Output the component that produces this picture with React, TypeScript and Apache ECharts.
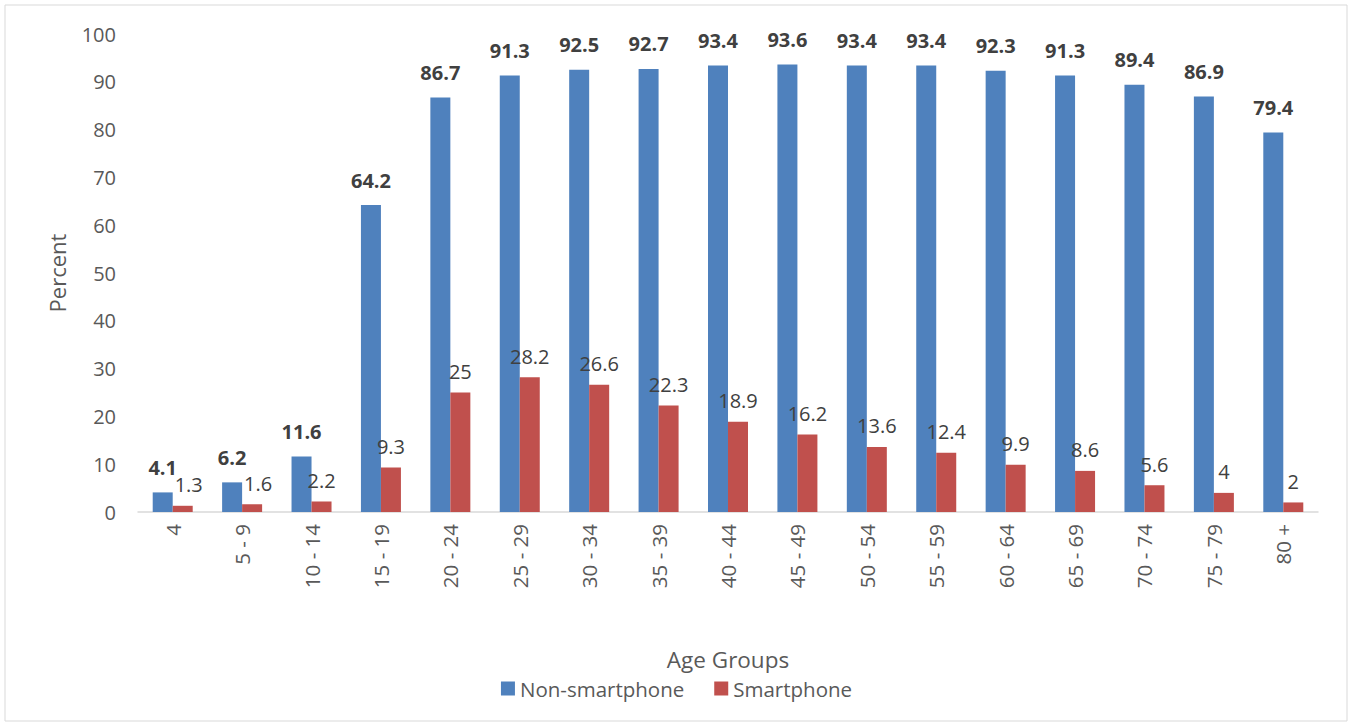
import React, { useEffect, useRef } from "react";
import * as echarts from "echarts";

const categories = ["4", "5 - 9", "10 - 14", "15 - 19", "20 - 24", "25 - 29", "30 - 34", "35 - 39", "40 - 44", "45 - 49", "50 - 54", "55 - 59", "60 - 64", "65 - 69", "70 - 74", "75 - 79", "80 +"];
const nonSmartphone = [4.1, 6.2, 11.6, 64.2, 86.7, 91.3, 92.5, 92.7, 93.4, 93.6, 93.4, 93.4, 92.3, 91.3, 89.4, 86.9, 79.4];
const smartphone = [1.3, 1.6, 2.2, 9.3, 25, 28.2, 26.6, 22.3, 18.9, 16.2, 13.6, 12.4, 9.9, 8.6, 5.6, 4, 2];
const yTicks = { min: 0, max: 100, interval: 10 };

const FONT = "'Open Sans', 'Noto Sans', sans-serif";

export default function App() {
  const ref = useRef<HTMLDivElement>(null);
  useEffect(() => {
    document.body.style.margin = "0";
    const chart = echarts.init(ref.current!, null, { renderer: "svg" });
    const redData = smartphone.map((v, i) =>
      i < 2 ? { value: v, label: { offset: [6, 0] } } : v
    );
    chart.setOption({
      animation: false,
      backgroundColor: "#ffffff",
      textStyle: { fontFamily: FONT },
      graphic: [
        {
          type: "rect",
          shape: { x: 5, y: 5, width: 1342, height: 716 },
          style: { fill: "none", stroke: "#D9D9D9", lineWidth: 1 },
          silent: true,
        },
      ],
      legend: {
        bottom: 22,
        left: "center",
        itemWidth: 14,
        itemHeight: 14,
        itemGap: 30,
        icon: "rect",
        textStyle: { color: "#595959", fontSize: 20.5, fontFamily: FONT },
        data: ["Non-smartphone", "Smartphone"],
      },
      grid: { left: 138, right: 35, top: 34, bottom: 214 },
      xAxis: {
        type: "category",
        data: categories,
        name: "Age Groups",
        nameLocation: "middle",
        nameGap: 136,
        nameTextStyle: { color: "#595959", fontSize: 22.5, fontFamily: FONT },
        axisLine: { lineStyle: { color: "#D9D9D9", width: 1.5 } },
        axisTick: { show: false },
        axisLabel: { rotate: 90, color: "#595959", fontSize: 20.5, margin: 12, fontFamily: FONT },
      },
      yAxis: {
        type: "value",
        min: yTicks.min,
        max: yTicks.max,
        interval: yTicks.interval,
        name: "Percent",
        nameLocation: "middle",
        nameGap: 70,
        nameTextStyle: { color: "#595959", fontSize: 22, fontFamily: FONT },
        axisLine: { show: false },
        axisTick: { show: false },
        splitLine: { show: false },
        axisLabel: { color: "#595959", fontSize: 20, margin: 22, fontFamily: FONT },
      },
      series: [
        {
          name: "Non-smartphone",
          type: "bar",
          data: nonSmartphone,
          barWidth: 20,
          barGap: "0%",
          itemStyle: { color: "#4F81BD" },
          label: {
            show: true,
            position: "top",
            distance: 15,
            color: "#404040",
            fontSize: 20,
            fontWeight: "bold",
            fontFamily: FONT,
          },
        },
        {
          name: "Smartphone",
          type: "bar",
          data: redData,
          barWidth: 20,
          barGap: "0%",
          itemStyle: { color: "#C0504D" },
          label: {
            show: true,
            position: "top",
            distance: 11,
            color: "#404040",
            fontSize: 20,
            fontFamily: FONT,
          },
        },
      ],
    });
    return () => chart.dispose();
  }, []);
  return <div ref={ref} style={{ width: 1353, height: 726 }} />;
}
